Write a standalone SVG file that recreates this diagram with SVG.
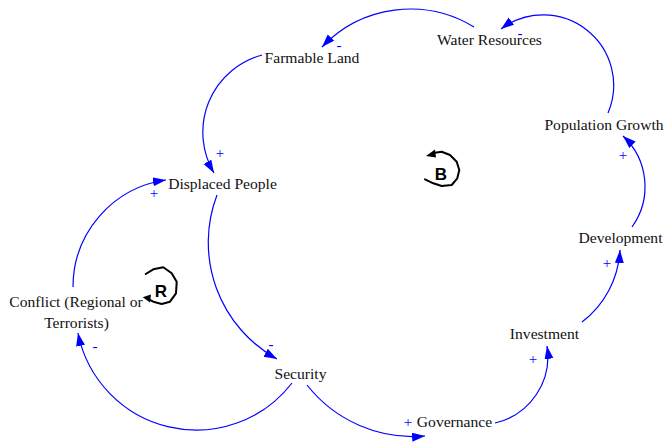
<svg xmlns="http://www.w3.org/2000/svg" width="666" height="443" viewBox="0 0 666 443">
  <defs>
    <marker id="arrow" markerUnits="userSpaceOnUse" markerWidth="14" markerHeight="10" refX="13" refY="4.5" orient="auto">
      <path d="M0,0 L13,4.5 L0,9 z" fill="#0000FF"/>
    </marker>
    <style>
      .lbl { font-family: "Liberation Serif", "Times New Roman", serif; font-size: 15.6px; fill: #111; text-anchor: middle; }
      .pol { font-family: "Liberation Serif", "Times New Roman", serif; font-size: 15px; fill: #0000FF; text-anchor: middle; }
      .link { fill: none; stroke: #0000FF; stroke-width: 1.2; marker-end: url(#arrow); }
      .loop { fill: none; stroke: #000; stroke-width: 2; stroke-linejoin: round; stroke-linecap: round; }
      .loopTxt { font-family: "Liberation Sans", Arial, sans-serif; font-weight: bold; font-size: 17px; fill: #000; text-anchor: middle; }
    </style>
  </defs>
  <rect width="666" height="443" fill="#fff"/>

  <!-- causal links -->
  <g id="connectors">
    <path class="link" d="M474,27 A122,122 0 0 0 322,47"/>
    <path class="link" d="M608,113 A70.4,70.4 0 0 0 501,29"/>
    <path class="link" d="M262,55 A80,80 0 0 0 214,173"/>
    <path class="link" d="M73,287 A108,108 0 0 1 166,180"/>
    <path class="link" d="M217,195 A133.3,133.3 0 0 0 277,359"/>
    <path class="link" d="M292,383 A120.7,120.7 0 0 1 78,333"/>
    <path class="link" d="M307,385 A135,135 0 0 0 425,436"/>
    <path class="link" d="M495,423 A68,68 0 0 0 547,346"/>
    <path class="link" d="M582,322 A96.6,96.6 0 0 0 620,250"/>
    <path class="link" d="M632,227 A69.2,69.2 0 0 0 623,136"/>

    <!-- polarity marks -->
    <text class="pol" x="339" y="50">-</text>
    <text class="pol" x="520" y="38">-</text>
    <text class="pol" x="220" y="158">+</text>
    <text class="pol" x="154" y="198">+</text>
    <text class="pol" x="271" y="349">-</text>
    <text class="pol" x="95" y="351">-</text>
    <text class="pol" x="408" y="427">+</text>
    <text class="pol" x="533" y="364">+</text>
    <text class="pol" x="607" y="268">+</text>
    <text class="pol" x="623" y="160">+</text>
  </g>

  <!-- variables -->
  <g id="water-resources"><text class="lbl" x="489.5" y="45">Water Resources</text></g>
  <g id="farmable-land"><text class="lbl" x="312" y="63">Farmable Land</text></g>
  <g id="population-growth"><text class="lbl" x="604" y="130">Population Growth</text></g>
  <g id="displaced-people"><text class="lbl" x="222.5" y="188.5">Displaced People</text></g>
  <g id="development"><text class="lbl" x="620.5" y="243">Development</text></g>
  <g id="conflict">
    <text class="lbl" x="76" y="307">Conflict (Regional or</text>
    <text class="lbl" x="76.5" y="328">Terrorists)</text>
  </g>
  <g id="investment"><text class="lbl" x="544.5" y="338.5">Investment</text></g>
  <g id="security"><text class="lbl" x="300.5" y="378.5">Security</text></g>
  <g id="governance"><text class="lbl" x="454.5" y="426.5">Governance</text></g>

  <!-- balancing loop marker -->
  <g id="loop-b">
    <path class="loop" d="M435,152.7 L441.7,151.7 L450,155 L456.7,161.7 L459.3,170 L457.3,178.3 L451.7,185 L441.7,186 L433.3,183.3 L425,179.3"/>
    <path d="M426,156 L435,149.5 L436,157.5 z" fill="#000"/>
    <text class="loopTxt" x="441" y="179.5">B</text>
  </g>

  <!-- reinforcing loop marker -->
  <g id="loop-r">
    <path class="loop" d="M145.7,274 L153.3,269.3 L163.3,267.3 L171.7,273.3 L176.7,281.7 L176,293.3 L170,301.7 L161.7,304 L153.3,301.7 L149,299.5"/>
    <path d="M142.7,297.3 L151,294.5 L150,302.5 z" fill="#000"/>
    <text class="loopTxt" x="161" y="297">R</text>
  </g>
</svg>
